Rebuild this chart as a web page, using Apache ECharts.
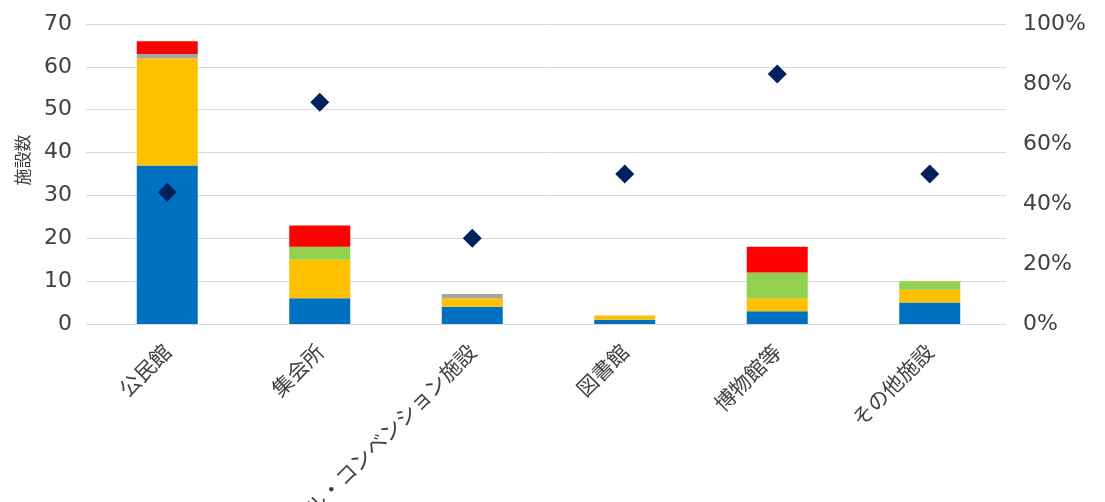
<!DOCTYPE html>
<html>
<head>
<meta charset="utf-8">
<script src="https://cdn.jsdelivr.net/npm/echarts@6/dist/echarts.min.js"></script>
<style>
html,body{margin:0;padding:0;background:#fff;}
#chart{width:1105px;height:502px;}
</style>
</head>
<body>
<div id="chart"></div>
<script>
const categories = ['公民館', '集会所', '文化ホール・コンベンション施設', '図書館', '博物館等', 'その他施設'];
const seriesBlue = [37, 6, 4, 1, 3, 5];
const seriesYellow = [25, 9, 2, 1, 3, 3];
const seriesGrey = [1, 0, 1, 0, 0, 0];
const seriesGreen = [0, 3, 0, 0, 6, 2];
const seriesRed = [3, 5, 0, 0, 6, 0];
const ratioPercent = [43.9, 73.9, 28.6, 50, 83.3, 50];
const leftTicks = { min: 0, max: 70, interval: 10 };
const rightTicks = { min: 0, max: 100, interval: 20 };

const numFont = 'DejaVu Sans, Noto Sans CJK JP, sans-serif';
const jpFont = 'Noto Sans CJK JP, sans-serif';
const textColor = '#404040';
const gridColor = '#d9d9d9';

function barSeries(name, data, color) {
  return {
    name: name, type: 'bar', stack: 'total', data: data,
    barWidth: '40%', itemStyle: { color: color },
    yAxisIndex: 0, silent: true
  };
}

const chart = echarts.init(document.getElementById('chart'), null, { renderer: 'canvas' });
chart.setOption({
  animation: false,
  grid: { left: 91, right: 99, top: 24, bottom: 178, containLabel: false, outerBoundsMode: 'none' },
  xAxis: {
    type: 'category', data: categories,
    axisLine: { show: true, lineStyle: { color: gridColor, width: 1 } },
    axisTick: { show: false },
    axisLabel: {
      rotate: 45, interval: 0, margin: 24,
      fontFamily: jpFont, fontSize: 21, color: textColor
    }
  },
  yAxis: [
    {
      type: 'value', min: leftTicks.min, max: leftTicks.max, interval: leftTicks.interval,
      name: '施設数', nameLocation: 'middle', nameRotate: 90, nameGap: 60,
      nameTextStyle: { fontFamily: jpFont, fontSize: 17, color: textColor, padding: [0, 0, 0, 28] },
      axisLine: { show: false },
      axisTick: { show: true, length: 5, lineStyle: { color: gridColor } },
      splitLine: { show: true, lineStyle: { color: gridColor, width: 1 } },
      axisLabel: { margin: 19, fontFamily: numFont, fontSize: 22, color: textColor }
    },
    {
      type: 'value', min: rightTicks.min, max: rightTicks.max, interval: rightTicks.interval,
      position: 'right',
      axisLine: { show: false }, axisTick: { show: false },
      splitLine: { show: false },
      axisLabel: { margin: 17, fontFamily: numFont, fontSize: 22, color: textColor, formatter: '{value}%' }
    }
  ],
  series: [
    barSeries('青', seriesBlue, '#0070C0'),
    barSeries('黄', seriesYellow, '#FFC000'),
    barSeries('灰', seriesGrey, '#A5A5A5'),
    barSeries('緑', seriesGreen, '#92D050'),
    barSeries('赤', seriesRed, '#FF0000'),
    {
      name: '割合', type: 'scatter', yAxisIndex: 1, data: ratioPercent,
      symbol: 'diamond', symbolSize: [19, 19],
      itemStyle: { color: '#002060', opacity: 1 }, z: 5, silent: true
    }
  ]
});
</script>
</body>
</html>
